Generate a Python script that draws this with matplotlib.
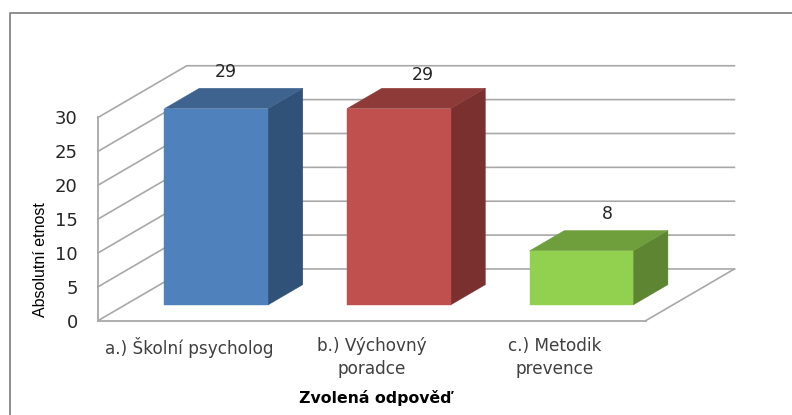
import matplotlib
matplotlib.use('Agg')
import matplotlib.pyplot as plt
from matplotlib.lines import Line2D

categories = ['a.) Školní psycholog', 'b.) Výchovný\nporadce', 'c.) Metodik\nprevence']
values = [29, 29, 8]
data_labels = ['29', '29', '8']
y_ticks = [0, 5, 10, 15, 20, 25, 30]

front_colors = ['#4F81BD', '#C0504D', '#92D050']
top_colors = ['#3F638F', '#8E3A38', '#6F9E3D']
side_colors = ['#315278', '#79302E', '#5E8532']
label_offsets = [(-18, 12), (-7.6, 9.4), (-6, 12)]

W, H, DPI = 792, 415, 100
grid_col = '#A8A8A8'
text_col = '#262626'

# oblique projection: how far the back wall is shifted, in data units
depth_x = 0.486
depth_y = 7.64
bar_w = 0.567
z_front, z_back = 0.304, 0.696


def proj(x, y, z):
    return x + z * depth_x, y + z * depth_y


fig = plt.figure(figsize=(W / DPI, H / DPI), dpi=DPI)
ax = fig.add_axes([98 / W, (H - 320.7) / H, 547.7 / W, 203.2 / H])
ax.set_xlim(0, 3)
ax.set_ylim(0, 30)
ax.patch.set_visible(False)

# walls
for v in y_ticks:
    x0, y0 = proj(0, v, 0)
    x1, y1 = proj(0, v, 1)
    x2, y2 = proj(3, v, 1)
    ax.plot([x0, x1, x2], [y0, y1, y2], color=grid_col, lw=1.2, clip_on=False, zorder=1)
fx, fy = proj(3, 0, 0)
bx, by = proj(3, 0, 1)
ax.plot([fx, bx], [fy, by], color=grid_col, lw=1.2, clip_on=False, zorder=1)

# bars
for i, v in enumerate(values):
    left = i + 0.5 - bar_w / 2
    right = i + 0.5 + bar_w / 2
    a = proj(left, 0, z_front)
    b = proj(right, 0, z_front)
    c = proj(right, v, z_front)
    d = proj(left, v, z_front)
    e = proj(right, 0, z_back)
    f = proj(right, v, z_back)
    g = proj(left, v, z_back)
    for pts, col in [([b, e, f, c], side_colors[i]), ([d, c, f, g], top_colors[i]), ([a, b, c, d], front_colors[i])]:
        ax.fill([p[0] for p in pts], [p[1] for p in pts], color=col, lw=0.3, clip_on=False, zorder=3)
    ax.annotate(data_labels[i], xy=proj(i + 0.5, v, z_back), xytext=label_offsets[i],
                textcoords='offset points', ha='center', va='center',
                fontsize=12.5, color=text_col, annotation_clip=False, zorder=4)

ax.set_xticks([0.5, 1.5, 2.5])
ax.set_xticklabels(categories, fontsize=12.2, color='#404040', linespacing=1.35)
ax.set_yticks(y_ticks)
ax.tick_params(axis='x', length=0, pad=12)
ax.tick_params(axis='y', length=0, pad=14.5, labelsize=13, labelcolor=text_col)
for s in ['top', 'right']:
    ax.spines[s].set_visible(False)
for s in ['left', 'bottom']:
    ax.spines[s].set_color(grid_col)
    ax.spines[s].set_linewidth(1.3)

fig.text(375 / W, 1 - 398 / H, 'Zvolená odpověď', ha='center', va='center',
         fontsize=11.3, fontweight='bold', color='black')
fig.text(40.5 / W, 1 - 260 / H, 'Absolutní etnost', rotation=90, ha='center', va='center',
         fontsize=11.5, family='Liberation Sans', color='black')

# outer frame, runs off the image on the right and at the bottom
fig.add_artist(Line2D([10 / W, 10 / W, 1], [0, 1 - 13 / H, 1 - 13 / H], color='#868686', lw=1.3))

fig.savefig('out.png', dpi=DPI, facecolor='white')
